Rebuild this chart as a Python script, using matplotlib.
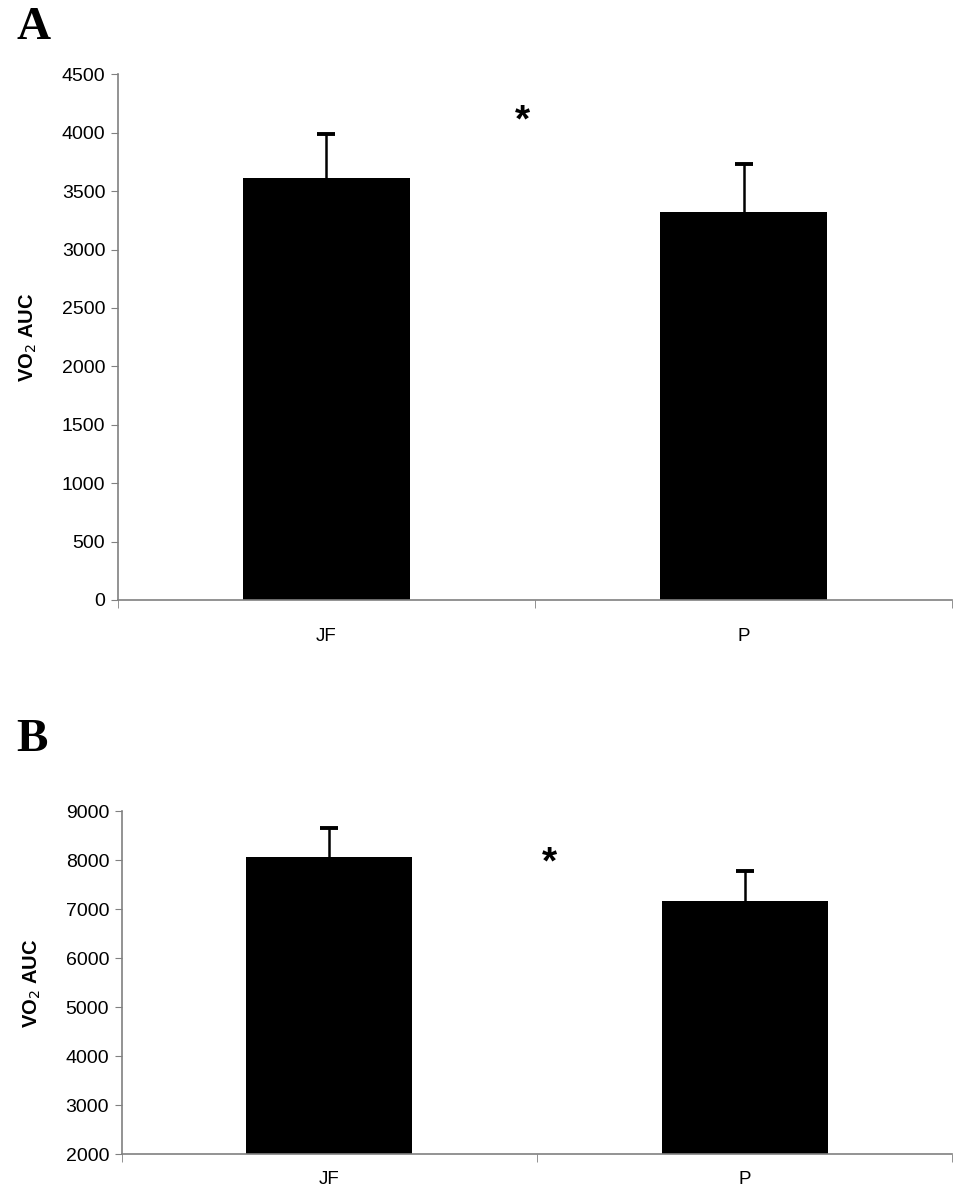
import matplotlib
matplotlib.use("Agg")
import matplotlib.pyplot as plt
import numpy as np

groups = ["JF", "P"]
auc_a = [3617, 3326]
err_a = [375, 403]
auc_b = [8065, 7175]
err_b = [585, 600]

plt.rcParams["font.family"] = ["Liberation Sans", "DejaVu Sans"]

fig = plt.figure(figsize=(9.58, 12), dpi=100)


def panel(rect, vals, errs, ylim, yticks, star_xy, letter, letter_y, xpad):
    ax = fig.add_axes(rect)
    x = np.arange(len(groups))
    base = ylim[0]
    vals = np.array(vals)
    errs = np.array(errs)
    ax.bar(x, vals - base, bottom=base, width=0.4, color="black", zorder=2)
    # upper error bar only: stem + cap
    ax.vlines(x, vals, vals + errs, color="black", linewidth=1.8, zorder=1)
    ax.plot(x, vals + errs, linestyle="none", marker="_", markersize=13,
            markeredgewidth=2.8, color="black", zorder=1)
    ax.set_xlim(-0.5, 1.5)
    ax.set_ylim(*ylim)
    ax.set_yticks(yticks)
    ax.tick_params(axis="y", labelsize=14, length=5, color="#808080", pad=4)
    ax.set_xticks(x)
    ax.set_xticklabels(groups)
    ax.tick_params(axis="x", which="major", length=0, labelsize=13.5, pad=xpad)
    ax.set_xticks([-0.5, 0.5, 1.5], minor=True)
    ax.tick_params(axis="x", which="minor", length=6, color="#808080")
    for s in ["top", "right"]:
        ax.spines[s].set_visible(False)
    for s in ["left", "bottom"]:
        ax.spines[s].set_color("#808080")
        ax.spines[s].set_linewidth(1.2)
    ax.set_ylabel("VO$_2$ AUC", fontsize=14.5, fontweight="bold", labelpad=16)
    ax.text(star_xy[0], star_xy[1], "*", fontsize=28, fontweight="bold",
            ha="center", va="center")
    fig.text(0.017, letter_y, letter, fontsize=34,
             fontweight="bold", family="Liberation Serif", va="center")
    return ax


panel([0.123, 0.5, 0.871, 0.438], auc_a, err_a, (0, 4500),
      range(0, 4501, 500), (0.471, 4100), "A", 0.977, 20)
panel([0.127, 0.038, 0.867, 0.286], auc_b, err_b, (2000, 9000),
      range(2000, 9001, 1000), (0.53, 7930), "B", 0.383, 12)

fig.savefig("out.png", dpi=100)
